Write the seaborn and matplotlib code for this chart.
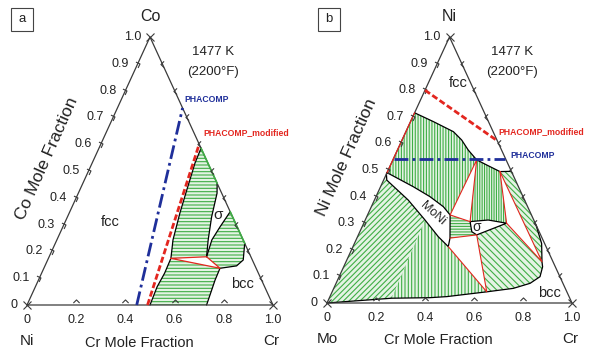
import matplotlib
matplotlib.use("Agg")
import numpy as np
import pandas as pd
import seaborn as sns
import matplotlib.pyplot as plt
from matplotlib.path import Path
from matplotlib.markers import MarkerStyle
from matplotlib.transforms import Affine2D
from matplotlib.patches import Polygon, Rectangle

sns.set_theme(style="white")
plt.rcParams["font.family"] = ["Liberation Sans", "DejaVu Sans"]
plt.rcParams["hatch.linewidth"] = 0.8

# ---------------- data: (Cr fraction, top-corner fraction) ----------------
side_ticks = [0.0, 0.1, 0.2, 0.3, 0.4, 0.5, 0.6, 0.7, 0.8, 0.9, 1.0]
side_labels = ["0", "0.1", "0.2", "0.3", "0.4", "0.5", "0.6", "0.7", "0.8", "0.9", "1.0"]
base_ticks = [0.0, 0.2, 0.4, 0.6, 0.8, 1.0]
base_labels = ["0", "0.2", "0.4", "0.6", "0.8", "1.0"]

# panel a : Ni - Cr - Co
a_phacomp_cr = [0.446, 0.265]
a_phacomp_co = [0.0, 0.735]
a_phmod_cr = [0.49, 0.40]
a_phmod_co = [0.0, 0.60]
a_fcc_cr = [0.500, 0.495, 0.500, 0.498, 0.472, 0.450, 0.435, 0.418, 0.415]
a_fcc_co = [0.000, 0.068, 0.119, 0.174, 0.243, 0.343, 0.429, 0.530, 0.585]
a_sigL_cr = [0.546, 0.564, 0.586, 0.615, 0.640]
a_sigL_co = [0.454, 0.417, 0.329, 0.243, 0.180]
a_sigR_cr = [0.640, 0.630, 0.639, 0.652]
a_sigR_co = [0.180, 0.243, 0.292, 0.348]
a_bcc_cr = [0.770, 0.795, 0.779, 0.716, 0.718, 0.730]
a_bcc_co = [0.230, 0.168, 0.146, 0.137, 0.093, 0.000]

# panel b : Mo - Cr - Ni
b_phmod_cr = [0.0, 0.39]
b_phmod_ni = [0.80, 0.61]
b_phacomp_cr = [0.0, 0.457]
b_phacomp_ni = [0.543, 0.543]
b_fcc_cr = [0.000, 0.093, 0.194, 0.243, 0.289, 0.342, 0.392, 0.459, 0.505]
b_fcc_ni = [0.715, 0.682, 0.644, 0.613, 0.575, 0.538, 0.519, 0.494, 0.495]
b_moniU_cr = [0.000, 0.134, 0.220, 0.294, 0.337, 0.380, 0.389]
b_moniU_ni = [0.490, 0.437, 0.400, 0.362, 0.331, 0.244, 0.212]
b_moniL_cr = [0.389, 0.330, 0.244, 0.138, 0.013, 0.000]
b_moniL_ni = [0.212, 0.249, 0.312, 0.387, 0.462, 0.485]
b_sigT_cr = [0.431, 0.502, 0.583]
b_sigT_ni = [0.306, 0.312, 0.300]
b_sigB_cr = [0.583, 0.483, 0.457, 0.431]
b_sigB_ni = [0.300, 0.256, 0.268, 0.306]
b_bcc_cr = [0.705, 0.764, 0.800, 0.812, 0.820, 0.792, 0.733, 0.631, 0.477, 0.410, 0.255, 0.000]
b_bcc_ni = [0.295, 0.224, 0.155, 0.136, 0.099, 0.074, 0.055, 0.042, 0.024, 0.020, 0.018, 0.000]

# ---------------- styles ----------------
FRAME = "#3a3a3a"
HATCH = "#3fae45"
FILL = "#e4f3e4"
RED = "#e3261f"
BLUE = "#1f2f9a"


def T(cr, top):
    cr = np.asarray(cr, float)
    top = np.asarray(top, float)
    return cr + top / 2.0, top


def P(cr, top):
    x, y = T(cr, top)
    return list(zip(x, y))


def hatch_region(ax, pts, hatch):
    ax.add_patch(Polygon(pts, closed=True, facecolor=FILL, edgecolor=HATCH,
                         lw=0, hatch=hatch, clip_on=False, zorder=1))


def line(ax, pts, color="black", lw=0.9, closed=False, z=3):
    arr = np.array(pts + ([pts[0]] if closed else []))
    ax.plot(arr[:, 0], arr[:, 1], color=color, lw=lw, zorder=z,
            clip_on=False, solid_capstyle="round")


chev = Path([(-0.5, 1.0), (0.5, 0.0), (-0.5, -1.0)],
            [Path.MOVETO, Path.LINETO, Path.LINETO])


def chev_marker(angle):
    return MarkerStyle(chev, fillstyle="none",
                       transform=Affine2D().rotate_deg(angle))


def frame(ax, top_name, left_name, right_name, axis_title):
    ax.set_xlim(0, 1)
    ax.set_ylim(0, 1)
    ax.axis("off")
    ax.plot([0, 1, 0.5, 0], [0, 0, 1, 0], color=FRAME, lw=0.9,
            clip_on=False, zorder=4)
    ax.plot([0, 1, 0.5], [0, 0, 1], ls="none", marker="x", ms=6, mew=0.8,
            color=FRAME, clip_on=False, zorder=5)
    inner = side_ticks[1:-1]
    lx, ly = T([0.0] * len(inner), inner)
    ax.plot(lx, ly, ls="none", marker=chev_marker(20), ms=4.5, mew=0.8,
            color=FRAME, clip_on=False, zorder=5)
    rx, ry = T([1 - v for v in inner], inner)
    ax.plot(rx, ry, ls="none", marker=chev_marker(180), ms=4.5, mew=0.8,
            color=FRAME, clip_on=False, zorder=5)
    bt = base_ticks[1:-1]
    bx, by = T(bt, [0.0] * len(bt))
    ax.plot(bx, by + 0.014, ls="none", marker=chev_marker(90), ms=4.5, mew=0.8,
            color=FRAME, clip_on=False, zorder=5)
    for v, lab in zip(side_ticks, side_labels):
        x, y = T(0.0, v)
        ax.annotate(lab, (x, y), xytext=(-6.5, 0), textcoords="offset points",
                    ha="right", va="center", fontsize=9, color="#222222",
                    annotation_clip=False)
    for v, lab in zip(base_ticks, base_labels):
        ax.annotate(lab, (v, 0), xytext=(0, -11), textcoords="offset points",
                    ha="center", va="center", fontsize=9, color="#222222",
                    annotation_clip=False)
    ax.text(0.5, 1.078, top_name, ha="center", va="center", fontsize=11.5,
            color="#222222", clip_on=False)
    ax.text(0.0, -0.135, left_name, ha="center", va="center", fontsize=11,
            color="#222222", clip_on=False)
    ax.text(0.995, -0.135, right_name, ha="center", va="center", fontsize=11,
            color="#222222", clip_on=False)
    ax.text(0.455, -0.14, "Cr Mole Fraction", ha="center", va="center",
            fontsize=10.5, color="#222222", clip_on=False)
    ax.text(0.08, 0.547, axis_title, ha="center", va="center", fontsize=12.5,
            rotation=66, rotation_mode="anchor", color="#222222", clip_on=False)
    ax.text(0.755, 0.944, "1477 K", ha="center", va="center", fontsize=9.5,
            color="#222222")
    ax.text(0.755, 0.869, "(2200°F)", ha="center", va="center", fontsize=9.5,
            color="#222222")


def phacomp(ax, cr, top, color, style, dashes, lw=2.0):
    x, y = T(cr, top)
    df = pd.DataFrame({"x": x, "y": y})
    sns.lineplot(data=df, x="x", y="y", sort=False, estimator=None, ax=ax,
                 color=color, lw=lw, linestyle=style, zorder=6)
    ln = ax.lines[-1]
    ln.set_dashes(dashes)
    ln.set_clip_on(False)


fig = plt.figure(figsize=(5.89, 3.51), dpi=100)
W, H = 589.0, 351.0
axA = fig.add_axes([27 / W, (H - 305) / H, 246 / W, 268 / H])
axB = fig.add_axes([327 / W, (H - 303) / H, 245 / W, 266 / H])

# ---------------- panel a ----------------
fccA = P(a_fcc_cr, a_fcc_co)
sigLA = P(a_sigL_cr, a_sigL_co)
sigRA = P(a_sigR_cr, a_sigR_co)
bccA = P(a_bcc_cr, a_bcc_co)

hatch_region(axA, fccA[3:] + sigLA, "-----")
hatch_region(axA, sigRA + bccA[:4], "-----")
hatch_region(axA, fccA[:4] + bccA[3:], "-----")
frame(axA, "Co", "Ni", "Cr", "Co Mole Fraction")
line(axA, fccA)
line(axA, sigLA)
line(axA, sigRA)
line(axA, bccA)
line(axA, [fccA[-1], sigLA[0]], color=HATCH, lw=1.2, z=4.5)
line(axA, [sigRA[-1], bccA[0]], color=HATCH, lw=1.2, z=4.5)
line(axA, [fccA[3], sigLA[-1], bccA[3]], color=RED, lw=0.9, closed=True, z=3.5)
phacomp(axA, a_phacomp_cr, a_phacomp_co, BLUE, "-.", (5, 1.5, 1, 1.5))
phacomp(axA, a_phmod_cr, a_phmod_co, RED, "--", (2.2, 1.0))
axA.text(0.638, 0.765, "PHACOMP", color=BLUE, fontsize=6.2, weight="bold",
         ha="left", va="center")
axA.text(0.715, 0.642, "PHACOMP_modified", color=RED, fontsize=6.2,
         weight="bold", ha="left", va="center", clip_on=False)
axA.text(0.337, 0.31, "fcc", fontsize=10.5, ha="center", va="center", color="#222222")
axA.text(0.776, 0.336, "σ", fontsize=11, ha="center", va="center", color="#222222")
axA.text(0.875, 0.078, "bcc", fontsize=10.5, ha="center", va="center", color="#222222")

# ---------------- panel b ----------------
fccB = P(b_fcc_cr, b_fcc_ni)
moniU = P(b_moniU_cr, b_moniU_ni)
moniL = P(b_moniL_cr, b_moniL_ni)
sigT = P(b_sigT_cr, b_sigT_ni)
sigB = P(b_sigB_cr, b_sigB_ni)
bccB = P(b_bcc_cr, b_bcc_ni)

hatch_region(axB, moniU[:5] + fccB[5::-1], "||||||")
hatch_region(axB, fccB[5:8] + sigT[::-1], "|||||||")
hatch_region(axB, moniU[4:6] + sigB[1:], "------")
hatch_region(axB, moniL[2:][::-1] + bccB[10:], "//////")
hatch_region(axB, moniL[2::-1] + bccB[7:11], "|||||")
hatch_region(axB, sigB[0:2] + bccB[7:1:-1], "\\\\\\\\\\")
hatch_region(axB, fccB[7:9] + bccB[0:3], "\\\\\\\\\\\\")
frame(axB, "Ni", "Mo", "Cr", "Ni Mole Fraction")
line(axB, fccB)
line(axB, moniU + moniL, closed=True)
line(axB, sigT + sigB[1:])
line(axB, bccB)
line(axB, [fccB[0], moniU[0]], color=RED, lw=0.9, z=4.5)
line(axB, [fccB[5], moniU[4], sigT[0]], color=RED, lw=0.8, closed=True, z=3.5)
line(axB, [moniU[5], sigB[1]], color=RED, lw=0.8, z=3.5)
line(axB, [moniL[0], bccB[7], sigB[1]], color=RED, lw=0.8, z=3.5)
line(axB, [fccB[7], sigT[-1], bccB[2]], color=RED, lw=0.8, closed=True, z=3.5)
phacomp(axB, b_phmod_cr, b_phmod_ni, RED, "--", (2.2, 1.0))
phacomp(axB, b_phacomp_cr, b_phacomp_ni, BLUE, "-.", (5, 1.5, 1, 1.5))
axB.text(0.698, 0.643, "PHACOMP_modified", color=RED, fontsize=6.2,
         weight="bold", ha="left", va="center", clip_on=False)
axB.text(0.747, 0.556, "PHACOMP", color=BLUE, fontsize=6.2, weight="bold",
         ha="left", va="center", clip_on=False)
axB.text(0.535, 0.827, "fcc", fontsize=10.5, ha="center", va="center", color="#222222")
axB.text(0.43, 0.338, "MoNi", fontsize=9, ha="center", va="center",
         rotation=-42, color="#222222")
axB.text(0.612, 0.286, "σ", fontsize=10, ha="center", va="center", color="#222222")
axB.text(0.91, 0.037, "bcc", fontsize=10.5, ha="center", va="center", color="#222222")

for (px, lab) in [(11, "a"), (318, "b")]:
    fig.patches.append(Rectangle((px / W, 1 - 31 / H), 22 / W, 23 / H,
                                 transform=fig.transFigure, fill=False,
                                 ec="#444444", lw=0.8))
    fig.text((px + 11) / W, 1 - 19.5 / H, lab, ha="center", va="center",
             fontsize=9.5, color="#222222")

fig.savefig("out.png", dpi=100)
